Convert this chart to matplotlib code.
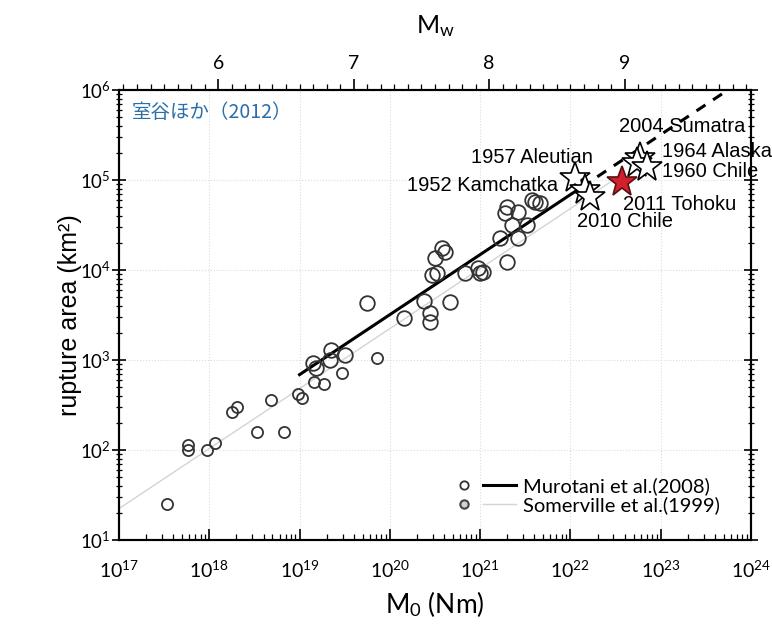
import matplotlib
matplotlib.use('Agg')
import matplotlib.pyplot as plt
from matplotlib.lines import Line2D
from matplotlib.legend_handler import HandlerTuple
from matplotlib.ticker import LogLocator, MultipleLocator, FixedLocator, NullFormatter

plt.rcParams['font.family'] = ['Liberation Sans', 'DejaVu Sans']
plt.rcParams['mathtext.fontset'] = 'custom'
plt.rcParams['mathtext.rm'] = 'Lato'
plt.rcParams['mathtext.it'] = 'Lato:italic'
plt.rcParams['mathtext.bf'] = 'Lato:bold'

# Somerville et al. (1999) data, moment (Nm) vs rupture area (km2)
som_m0 = [3.37e17, 5.85e17, 5.85e17, 9.5e17, 1.15e18, 1.78e18, 2.04e18,
          3.35e18, 4.82e18, 6.67e18, 9.6e18, 1.07e19, 1.46e19, 1.86e19,
          2.92e19, 7.24e19]
som_area = [25, 113, 100, 100, 120, 267, 303, 160, 359, 160, 416, 375,
            574, 541, 723, 1045]

# Murotani et al. (2008) data
mur_m0 = [1.42e19, 1.52e19, 2.21e19, 2.17e19, 3.18e19, 5.53e19, 1.43e20,
          2.39e20, 2.78e20, 2.78e20, 4.63e20, 2.9e20, 3.3e20, 3.75e20,
          4.08e20, 3.16e20, 6.79e20, 9.53e20, 9.95e20, 1.08e21, 1.66e21,
          2.64e21, 1.96e21, 2.23e21, 3.27e21, 1.96e21, 1.88e21, 2.64e21,
          3.72e21, 4.59e21, 4.05e21]
mur_area = [918, 815, 1290, 1000, 1136, 4270, 2900, 4520, 3330, 2640, 4450,
            8800, 9180, 17400, 16000, 13500, 9180, 10400, 9180, 9580, 22500,
            22500, 12400, 31600, 31600, 50500, 42600, 44500, 60000, 55100,
            57400]

# great earthquakes
quake_names = ['1957 Aleutian', '1952 Kamchatka', '2010 Chile', '2011 Tohoku',
               '2004 Sumatra', '1964 Alaska', '1960 Chile']
quake_m0 = [1.12e22, 1.45e22, 1.64e22, 3.69e22, 5.89e22, 5.41e22, 6.98e22]
quake_area = [1.04e5, 7.74e4, 6.47e4, 9.58e4, 1.76e5, 1.54e5, 1.38e5]

# scaling relations (end points)
mur_fit_m0 = [1e19, 1.3e22]
mur_fit_area = [687, 8.19e4]
mur_ext_m0 = [1.3e22, 1e24]
mur_ext_area = [8.19e4, 1.48e6]
som_fit_m0 = [1e17, 3e22]
som_fit_area = [22.3, 1.0e5]

legend_labels = ['Murotani et al.(2008)', 'Somerville et al.(1999)']

# label offsets in pixels (dx, dy, ha)
label_offsets = [(-43, 21, 'center'), (-27, 4, 'right'), (35, -25, 'center'),
                 (1, -23, 'left'), (42, 31, 'center'), (25, 12, 'left'),
                 (15, -4, 'left')]

fig = plt.figure(figsize=(7.72, 6.27), dpi=100)
ax = fig.add_axes([0.1541, 0.1388, 0.8187, 0.7177])
ax.set_xscale('log')
ax.set_yscale('log')
ax.set_xlim(1e17, 1e24)
ax.set_ylim(1e1, 1e6)
ax.grid(True, which='major', color='#dcdcdc', ls=':', lw=0.8)

ax.plot(som_fit_m0, som_fit_area, color='#d4d4d4', lw=1.0, zorder=2)
ax.plot(mur_fit_m0, mur_fit_area, color='black', lw=2.2, zorder=3)
ax.plot(mur_ext_m0, mur_ext_area, color='black', lw=2.2, ls=(0, (3.5, 3)),
        zorder=3)

ax.plot(som_m0, som_area, ls='none', marker='o', ms=8, mfc='none',
        mec='#333333', mew=1.3, zorder=4)
ax.plot(mur_m0, mur_area, ls='none', marker='o', ms=10.5, mfc='none',
        mec='#333333', mew=1.3, zorder=4)

for i, name in enumerate(quake_names):
    if name == '2011 Tohoku':
        fc, ec = '#d2202e', '#5a1010'
    else:
        fc, ec = 'white', 'black'
    ax.plot(quake_m0[i], quake_area[i], ls='none', marker='*', ms=23,
            mfc=fc, mec=ec, mew=1.2, zorder=5)
for i, name in enumerate(quake_names):
    dx, dy, ha = label_offsets[i]
    ax.annotate(name, (quake_m0[i], quake_area[i]), xytext=(dx, dy),
                textcoords='offset pixels', ha=ha, va='center',
                fontsize=14.5, zorder=6)

ax.text(0.0206, 0.949, '室谷ほか（2012）', transform=ax.transAxes,
        family=['Noto Sans CJK JP', 'DejaVu Sans'], color='#2a6fa8',
        fontsize=14, va='center', ha='left')

# axis ticks
ax.xaxis.set_major_locator(LogLocator(base=10, numticks=10))
ax.xaxis.set_minor_locator(LogLocator(base=10, subs=range(2, 10), numticks=10))
ax.yaxis.set_major_locator(LogLocator(base=10, numticks=10))
ax.yaxis.set_minor_locator(LogLocator(base=10, subs=range(2, 10), numticks=10))
ax.xaxis.set_minor_formatter(NullFormatter())
ax.yaxis.set_minor_formatter(NullFormatter())
ax.tick_params(axis='y', which='both', direction='inout', right=True,
               labelfontfamily='Lato', labelsize=13.5, pad=1)
ax.tick_params(axis='y', which='major', length=10, width=1.2)
ax.tick_params(axis='y', which='minor', length=5, width=0.9)
ax.tick_params(axis='x', which='both', direction='in', top=False,
               labelfontfamily='Lato', labelsize=14, pad=14)
ax.tick_params(axis='x', which='major', length=8, width=1.2)
ax.tick_params(axis='x', which='minor', length=4, width=0.9)
for s in ax.spines.values():
    s.set_linewidth(1.5)

ax.set_xlabel('M$_0$ (Nm)', family='Lato', fontsize=19, labelpad=6)
ax.set_ylabel('rupture area (km²)', fontsize=18)
ax.yaxis.set_label_coords(-0.058, 0.5)

# moment magnitude on top
ax2 = ax.twiny()
ax2.set_xlim((17 - 9.1) / 1.5, (24 - 9.1) / 1.5)
ax2.xaxis.set_major_locator(FixedLocator([6, 7, 8, 9]))
ax2.xaxis.set_minor_locator(MultipleLocator(0.1))
ax2.tick_params(axis='x', which='both', direction='out',
                labelfontfamily='Lato', labelsize=14, pad=5)
ax2.tick_params(axis='x', which='major', length=8, width=1.2)
ax2.tick_params(axis='x', which='minor', length=4, width=0.9)
ax2.set_xlabel('M$_\\mathrm{w}$', family='Lato', fontsize=18, labelpad=16)
for s in ax2.spines.values():
    s.set_linewidth(1.5)

# legend
h1 = (Line2D([], [], ls='none', marker='o', ms=6, mfc='white',
             mec='#333333', mew=1.3),
      Line2D([], [], color='black', lw=2.2))
h2 = (Line2D([], [], ls='none', marker='o', ms=6, mfc='#d0d0d0',
             mec='#444444', mew=1.5),
      Line2D([], [], color='#d4d4d4', lw=1.0))
ax.legend([h1, h2], legend_labels,
          handler_map={tuple: HandlerTuple(ndivide=None, pad=0.1)},
          loc='lower left', bbox_to_anchor=(0.52, 0.058), frameon=False,
          handlelength=3.4, handletextpad=0.35, labelspacing=0.05,
          borderpad=0, borderaxespad=0, prop={'family': 'Lato', 'size': 14.5})

fig.savefig('out.png', dpi=100)
